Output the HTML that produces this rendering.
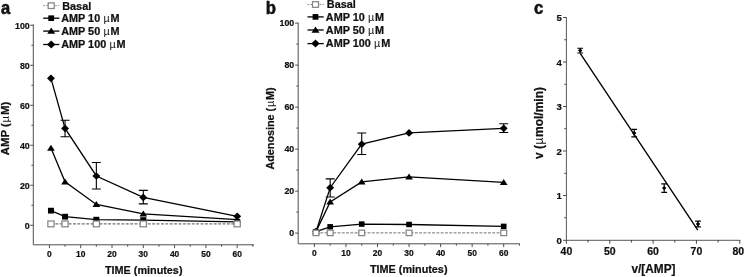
<!DOCTYPE html><html><head><meta charset="utf-8"><title>figure</title>
<style>html,body{margin:0;padding:0;background:#fff;}svg{display:block;will-change:transform;}text{font-family:"Liberation Sans", sans-serif;font-weight:bold;fill:#111;stroke:#111;stroke-width:0.22px;}</style></head><body>
<svg width="746" height="277" viewBox="0 0 746 277">
<rect width="746" height="277" fill="#fff"/>
<path d="M33.3,24.30V244.8H254.0" stroke="#3c3c3c" stroke-width="0.9" fill="none"/>
<path d="M33.3,225.25h-3.1M33.3,205.25h-1.9M33.3,185.25h-3.1M33.3,165.25h-1.9M33.3,145.25h-3.1M33.3,125.25h-1.9M33.3,105.25h-3.1M33.3,85.25h-1.9M33.3,65.25h-3.1M33.3,45.25h-1.9M33.3,25.25h-3.1M49.40,244.8v3.3M65.05,244.8v1.9M80.70,244.8v3.3M96.35,244.8v1.9M112.00,244.8v3.3M127.65,244.8v1.9M143.30,244.8v3.3M158.95,244.8v1.9M174.60,244.8v3.3M190.25,244.8v1.9M205.90,244.8v3.3M221.55,244.8v1.9M237.20,244.8v3.3M252.85,244.8v1.9" stroke="#3c3c3c" stroke-width="0.9" fill="none"/>
<text transform="translate(29.70,228.75) scale(0.96,1)" font-size="9.2" text-anchor="end">0</text>
<text transform="translate(29.70,188.75) scale(0.96,1)" font-size="9.2" text-anchor="end">20</text>
<text transform="translate(29.70,148.75) scale(0.96,1)" font-size="9.2" text-anchor="end">40</text>
<text transform="translate(29.70,108.75) scale(0.96,1)" font-size="9.2" text-anchor="end">60</text>
<text transform="translate(29.70,68.75) scale(0.96,1)" font-size="9.2" text-anchor="end">80</text>
<text transform="translate(29.70,28.75) scale(0.96,1)" font-size="9.2" text-anchor="end">100</text>
<text transform="translate(49.40,257.30) scale(0.92,1)" font-size="9.2" text-anchor="middle">0</text>
<text transform="translate(80.70,257.30) scale(0.92,1)" font-size="9.2" text-anchor="middle">10</text>
<text transform="translate(112.00,257.30) scale(0.92,1)" font-size="9.2" text-anchor="middle">20</text>
<text transform="translate(143.30,257.30) scale(0.92,1)" font-size="9.2" text-anchor="middle">30</text>
<text transform="translate(174.60,257.30) scale(0.92,1)" font-size="9.2" text-anchor="middle">40</text>
<text transform="translate(205.90,257.30) scale(0.92,1)" font-size="9.2" text-anchor="middle">50</text>
<text transform="translate(237.20,257.30) scale(0.92,1)" font-size="9.2" text-anchor="middle">60</text>
<text transform="translate(143.70,273.60) scale(0.985,1)" font-size="11" text-anchor="middle">TIME (minutes)</text>
<text transform="translate(9.30,128.50) rotate(-90) scale(1.07,1)" font-size="10.6" text-anchor="middle">AMP (<tspan style="font-weight:normal;stroke:none" dx="0.8">µ</tspan><tspan dx="0.8">M)</tspan></text>
<text transform="translate(1.10,13.90) scale(0.92,1)" font-size="18" style="stroke-width:0.55px">a</text>
<path d="M43.20,5.7H59.40" stroke="#858585" stroke-width="1" stroke-dasharray="1.6,1.4" fill="none"/>
<rect x="48.19" y="2.89" width="6.01" height="5.63" fill="#fff" stroke="#858585" stroke-width="1.25"/>
<text transform="translate(62.20,9.60) scale(1.09,1)" font-size="10" text-anchor="start">Basal</text>
<path d="M43.20,18.2H59.40" stroke="#000" stroke-width="1.3" fill="none"/>
<rect x="48.29" y="15.39" width="5.82" height="5.63" fill="#000"/>
<text transform="translate(61.20,21.80) scale(1.085,1)" font-size="10" text-anchor="start">AMP 10 <tspan style="font-weight:normal;stroke:none" dx="0.3">µ</tspan><tspan dx="0.7">M</tspan></text>
<path d="M43.20,31.1H59.40" stroke="#000" stroke-width="1.3" fill="none"/>
<polygon points="51.20,27.56 55.20,33.80 47.20,33.80" fill="#000"/>
<text transform="translate(61.20,34.70) scale(1.085,1)" font-size="10" text-anchor="start">AMP 50 <tspan style="font-weight:normal;stroke:none" dx="0.3">µ</tspan><tspan dx="0.7">M</tspan></text>
<path d="M43.20,44.5H59.40" stroke="#000" stroke-width="1.3" fill="none"/>
<polygon points="51.20,40.50 55.31,44.50 51.20,48.50 47.09,44.50" fill="#000"/>
<text transform="translate(61.20,48.10) scale(1.085,1)" font-size="10" text-anchor="start">AMP 100 <tspan style="font-weight:normal;stroke:none" dx="0.3">µ</tspan><tspan dx="0.7">M</tspan></text>
<polyline points="50.96,210.66 65.05,216.68 96.35,219.69 143.30,220.09 237.20,221.89" stroke="#000" stroke-width="1.3" fill="none"/>
<rect x="47.96" y="207.76" width="6.00" height="5.80" fill="#000"/>
<rect x="62.05" y="213.78" width="6.00" height="5.80" fill="#000"/>
<rect x="93.35" y="216.79" width="6.00" height="5.80" fill="#000"/>
<rect x="140.30" y="217.19" width="6.00" height="5.80" fill="#000"/>
<rect x="234.20" y="218.99" width="6.00" height="5.80" fill="#000"/>
<polyline points="50.96,148.11 65.05,181.79 96.35,204.45 143.30,213.87 237.20,219.69" stroke="#000" stroke-width="1.3" fill="none"/>
<polygon points="50.96,144.71 54.81,150.71 47.11,150.71" fill="#000"/>
<polygon points="65.05,178.39 68.90,184.39 61.20,184.39" fill="#000"/>
<polygon points="96.35,201.05 100.20,207.05 92.50,207.05" fill="#000"/>
<polygon points="143.30,210.47 147.15,216.47 139.45,216.47" fill="#000"/>
<polygon points="237.20,216.29 241.05,222.29 233.35,222.29" fill="#000"/>
<polyline points="50.96,78.33 65.05,128.46 96.35,175.98 143.30,197.43 237.20,216.28" stroke="#000" stroke-width="1.3" fill="none"/>
<path d="M65.05,120.24V136.68M60.55,120.24H69.55M60.55,136.68H69.55" stroke="#000" stroke-width="1.1" fill="none"/>
<path d="M96.35,162.54V189.01M91.85,162.54H100.85M91.85,189.01H100.85" stroke="#000" stroke-width="1.1" fill="none"/>
<path d="M143.30,190.41V203.85M138.80,190.41H147.80M138.80,203.85H147.80" stroke="#000" stroke-width="1.1" fill="none"/>
<polygon points="50.96,74.48 54.91,78.33 50.96,82.18 47.01,78.33" fill="#000"/>
<polygon points="65.05,124.61 69.00,128.46 65.05,132.31 61.10,128.46" fill="#000"/>
<polygon points="96.35,172.13 100.30,175.98 96.35,179.83 92.40,175.98" fill="#000"/>
<polygon points="143.30,193.58 147.25,197.43 143.30,201.28 139.35,197.43" fill="#000"/>
<polygon points="237.20,212.43 241.15,216.28 237.20,220.13 233.25,216.28" fill="#000"/>
<polyline points="50.96,223.90 65.05,223.90 96.35,223.90 143.30,223.90 237.20,223.90" stroke="#727272" stroke-width="1.25" stroke-dasharray="2.9,1.5" fill="none"/>
<rect x="47.86" y="221.00" width="6.20" height="5.80" fill="#fff" stroke="#858585" stroke-width="1.25"/>
<rect x="61.95" y="221.00" width="6.20" height="5.80" fill="#fff" stroke="#858585" stroke-width="1.25"/>
<rect x="93.25" y="221.00" width="6.20" height="5.80" fill="#fff" stroke="#858585" stroke-width="1.25"/>
<rect x="140.20" y="221.00" width="6.20" height="5.80" fill="#fff" stroke="#858585" stroke-width="1.25"/>
<rect x="234.10" y="221.00" width="6.20" height="5.80" fill="#fff" stroke="#858585" stroke-width="1.25"/>
<path d="M298.2,22.60V243.8H519.8" stroke="#3c3c3c" stroke-width="0.9" fill="none"/>
<path d="M298.2,233.10h-3.1M298.2,212.10h-1.9M298.2,191.10h-3.1M298.2,170.10h-1.9M298.2,149.10h-3.1M298.2,128.10h-1.9M298.2,107.10h-3.1M298.2,86.10h-1.9M298.2,65.10h-3.1M298.2,44.10h-1.9M298.2,23.10h-3.1M314.40,243.8v3.3M330.17,243.8v1.9M345.95,243.8v3.3M361.72,243.8v1.9M377.50,243.8v3.3M393.27,243.8v1.9M409.05,243.8v3.3M424.82,243.8v1.9M440.60,243.8v3.3M456.38,243.8v1.9M472.15,243.8v3.3M487.92,243.8v1.9M503.70,243.8v3.3M519.47,243.8v1.9" stroke="#3c3c3c" stroke-width="0.9" fill="none"/>
<text transform="translate(294.20,235.80) scale(0.96,1)" font-size="9.2" text-anchor="end">0</text>
<text transform="translate(294.20,193.80) scale(0.96,1)" font-size="9.2" text-anchor="end">20</text>
<text transform="translate(294.20,151.80) scale(0.96,1)" font-size="9.2" text-anchor="end">40</text>
<text transform="translate(294.20,109.80) scale(0.96,1)" font-size="9.2" text-anchor="end">60</text>
<text transform="translate(294.20,67.80) scale(0.96,1)" font-size="9.2" text-anchor="end">80</text>
<text transform="translate(294.20,25.80) scale(0.96,1)" font-size="9.2" text-anchor="end">100</text>
<text transform="translate(314.40,256.30) scale(0.92,1)" font-size="9.2" text-anchor="middle">0</text>
<text transform="translate(345.95,256.30) scale(0.92,1)" font-size="9.2" text-anchor="middle">10</text>
<text transform="translate(377.50,256.30) scale(0.92,1)" font-size="9.2" text-anchor="middle">20</text>
<text transform="translate(409.05,256.30) scale(0.92,1)" font-size="9.2" text-anchor="middle">30</text>
<text transform="translate(440.60,256.30) scale(0.92,1)" font-size="9.2" text-anchor="middle">40</text>
<text transform="translate(472.15,256.30) scale(0.92,1)" font-size="9.2" text-anchor="middle">50</text>
<text transform="translate(503.70,256.30) scale(0.92,1)" font-size="9.2" text-anchor="middle">60</text>
<text transform="translate(408.70,272.80) scale(0.985,1)" font-size="11" text-anchor="middle">TIME (minutes)</text>
<text transform="translate(274.00,128.50) rotate(-90) scale(1.02,1)" font-size="10.6" text-anchor="middle">Adenosine (<tspan style="font-weight:normal;stroke:none" dx="0.8">µ</tspan><tspan dx="0.8">M)</tspan></text>
<text transform="translate(265.80,14.00) scale(0.93,1)" font-size="18" style="stroke-width:0.55px">b</text>
<path d="M307.50,4.5H323.70" stroke="#858585" stroke-width="1" stroke-dasharray="1.6,1.4" fill="none"/>
<rect x="312.49" y="1.69" width="6.01" height="5.63" fill="#fff" stroke="#858585" stroke-width="1.25"/>
<text transform="translate(326.80,8.40) scale(1.09,1)" font-size="10" text-anchor="start">Basal</text>
<path d="M307.50,16.9H323.70" stroke="#000" stroke-width="1.3" fill="none"/>
<rect x="312.59" y="14.09" width="5.82" height="5.63" fill="#000"/>
<text transform="translate(325.80,20.50) scale(1.085,1)" font-size="10" text-anchor="start">AMP 10 <tspan style="font-weight:normal;stroke:none" dx="0.3">µ</tspan><tspan dx="0.7">M</tspan></text>
<path d="M307.50,30.0H323.70" stroke="#000" stroke-width="1.3" fill="none"/>
<polygon points="315.50,26.46 319.50,32.70 311.50,32.70" fill="#000"/>
<text transform="translate(325.80,33.60) scale(1.085,1)" font-size="10" text-anchor="start">AMP 50 <tspan style="font-weight:normal;stroke:none" dx="0.3">µ</tspan><tspan dx="0.7">M</tspan></text>
<path d="M307.50,43.6H323.70" stroke="#000" stroke-width="1.3" fill="none"/>
<polygon points="315.50,39.60 319.61,43.60 315.50,47.60 311.39,43.60" fill="#000"/>
<text transform="translate(325.80,47.20) scale(1.085,1)" font-size="10" text-anchor="start">AMP 100 <tspan style="font-weight:normal;stroke:none" dx="0.3">µ</tspan><tspan dx="0.7">M</tspan></text>
<polyline points="315.98,231.63 330.17,226.80 361.72,224.07 409.05,224.49 503.70,226.38" stroke="#000" stroke-width="1.3" fill="none"/>
<rect x="313.16" y="228.90" width="5.64" height="5.45" fill="#000"/>
<rect x="327.35" y="224.07" width="5.64" height="5.45" fill="#000"/>
<rect x="358.90" y="221.34" width="5.64" height="5.45" fill="#000"/>
<rect x="406.23" y="221.76" width="5.64" height="5.45" fill="#000"/>
<rect x="500.88" y="223.65" width="5.64" height="5.45" fill="#000"/>
<polyline points="315.98,231.63 330.17,202.02 361.72,181.86 409.05,176.82 503.70,182.28" stroke="#000" stroke-width="1.3" fill="none"/>
<polygon points="315.98,228.23 319.83,234.23 312.13,234.23" fill="#000"/>
<polygon points="330.17,198.62 334.02,204.62 326.32,204.62" fill="#000"/>
<polygon points="361.72,178.46 365.57,184.46 357.87,184.46" fill="#000"/>
<polygon points="409.05,173.42 412.90,179.42 405.20,179.42" fill="#000"/>
<polygon points="503.70,178.88 507.55,184.88 499.85,184.88" fill="#000"/>
<polyline points="315.98,231.63 330.17,187.74 361.72,144.16 409.05,132.93 503.70,128.31" stroke="#000" stroke-width="1.3" fill="none"/>
<path d="M330.17,178.92V196.98M325.67,178.92H334.67M325.67,196.98H334.67" stroke="#000" stroke-width="1.1" fill="none"/>
<path d="M361.72,133.03V154.56M357.22,133.03H366.22M357.22,154.56H366.22" stroke="#000" stroke-width="1.1" fill="none"/>
<path d="M503.70,123.69V132.51M499.20,123.69H508.20M499.20,132.51H508.20" stroke="#000" stroke-width="1.1" fill="none"/>
<polygon points="315.98,227.78 319.93,231.63 315.98,235.48 312.03,231.63" fill="#000"/>
<polygon points="330.17,183.89 334.12,187.74 330.17,191.59 326.22,187.74" fill="#000"/>
<polygon points="361.72,140.31 365.67,144.16 361.72,148.01 357.77,144.16" fill="#000"/>
<polygon points="409.05,129.08 413.00,132.93 409.05,136.78 405.10,132.93" fill="#000"/>
<polygon points="503.70,124.46 507.65,128.31 503.70,132.16 499.75,128.31" fill="#000"/>
<polyline points="315.98,232.89 330.17,232.89 361.72,232.89 409.05,232.89 503.70,232.89" stroke="#727272" stroke-width="1.0" stroke-dasharray="2.9,1.4" fill="none"/>
<rect x="313.06" y="230.16" width="5.83" height="5.45" fill="#fff" stroke="#858585" stroke-width="1.25"/>
<rect x="327.26" y="230.16" width="5.83" height="5.45" fill="#fff" stroke="#858585" stroke-width="1.25"/>
<rect x="358.81" y="230.16" width="5.83" height="5.45" fill="#fff" stroke="#858585" stroke-width="1.25"/>
<rect x="406.14" y="230.16" width="5.83" height="5.45" fill="#fff" stroke="#858585" stroke-width="1.25"/>
<rect x="500.79" y="230.16" width="5.83" height="5.45" fill="#fff" stroke="#858585" stroke-width="1.25"/>
<path d="M566.4,17.05V240.3H740.30" stroke="#3c3c3c" stroke-width="0.85" fill="none"/>
<path d="M566.4,240.30h-3.4M566.4,217.75h-2.2M566.4,195.50h-3.4M566.4,173.25h-2.2M566.4,151.00h-3.4M566.4,128.75h-2.2M566.4,106.50h-3.4M566.4,84.25h-2.2M566.4,62.00h-3.4M566.4,39.75h-2.2M566.4,17.50h-3.4M566.40,240.0v3.8M588.07,240.0v2.6M609.75,240.0v3.8M631.42,240.0v2.6M653.10,240.0v3.8M674.77,240.0v2.6M696.45,240.0v3.8M718.12,240.0v2.6M739.80,240.0v3.8" stroke="#3c3c3c" stroke-width="0.9" fill="none"/>
<text transform="translate(561.90,243.75) scale(0.97,1)" font-size="9.9" text-anchor="end">0</text>
<text transform="translate(561.90,199.25) scale(0.97,1)" font-size="9.9" text-anchor="end">1</text>
<text transform="translate(561.90,154.75) scale(0.97,1)" font-size="9.9" text-anchor="end">2</text>
<text transform="translate(561.90,110.25) scale(0.97,1)" font-size="9.9" text-anchor="end">3</text>
<text transform="translate(561.90,65.75) scale(0.97,1)" font-size="9.9" text-anchor="end">4</text>
<text transform="translate(561.90,21.25) scale(0.97,1)" font-size="9.9" text-anchor="end">5</text>
<text transform="translate(566.40,254.90) scale(1.03,1)" font-size="10.2" text-anchor="middle">40</text>
<text transform="translate(609.75,254.90) scale(1.03,1)" font-size="10.2" text-anchor="middle">50</text>
<text transform="translate(653.10,254.90) scale(1.03,1)" font-size="10.2" text-anchor="middle">60</text>
<text transform="translate(696.45,254.90) scale(1.03,1)" font-size="10.2" text-anchor="middle">70</text>
<text transform="translate(738.30,254.90) scale(1.03,1)" font-size="10.2" text-anchor="middle">80</text>
<text transform="translate(653.50,273.20) scale(0.985,1)" font-size="12" text-anchor="middle">v/[AMP]</text>
<text transform="translate(543.30,123.00) rotate(-90) scale(1.0,1)" font-size="12" text-anchor="middle">v (<tspan style="font-weight:normal;stroke:none" dx="0.5">µ</tspan><tspan dx="0.5">mol/min)</tspan></text>
<text transform="translate(534.10,14.00) scale(0.93,1)" font-size="18" style="stroke-width:0.55px">c</text>
<path d="M580.2,53.4L697.8,230.2" stroke="#000" stroke-width="1.35" fill="none"/>
<path d="M580.20,48.20V53.00M577.30,48.20H583.10M577.30,53.00H583.10" stroke="#000" stroke-width="1.15" fill="none"/>
<polygon points="580.20,48.44 582.41,50.60 580.20,52.76 577.99,50.60" fill="#000"/>
<path d="M634.20,129.30V136.80M631.30,129.30H637.10M631.30,136.80H637.10" stroke="#000" stroke-width="1.15" fill="none"/>
<polygon points="634.20,130.89 636.41,133.05 634.20,135.21 631.99,133.05" fill="#000"/>
<path d="M664.20,183.90V192.30M661.30,183.90H667.10M661.30,192.30H667.10" stroke="#000" stroke-width="1.15" fill="none"/>
<polygon points="664.20,185.94 666.41,188.10 664.20,190.26 661.99,188.10" fill="#000"/>
<path d="M698.00,221.10V226.90M695.10,221.10H700.90M695.10,226.90H700.90" stroke="#000" stroke-width="1.15" fill="none"/>
<polygon points="698.00,221.84 700.21,224.00 698.00,226.16 695.79,224.00" fill="#000"/>
</svg></body></html>
